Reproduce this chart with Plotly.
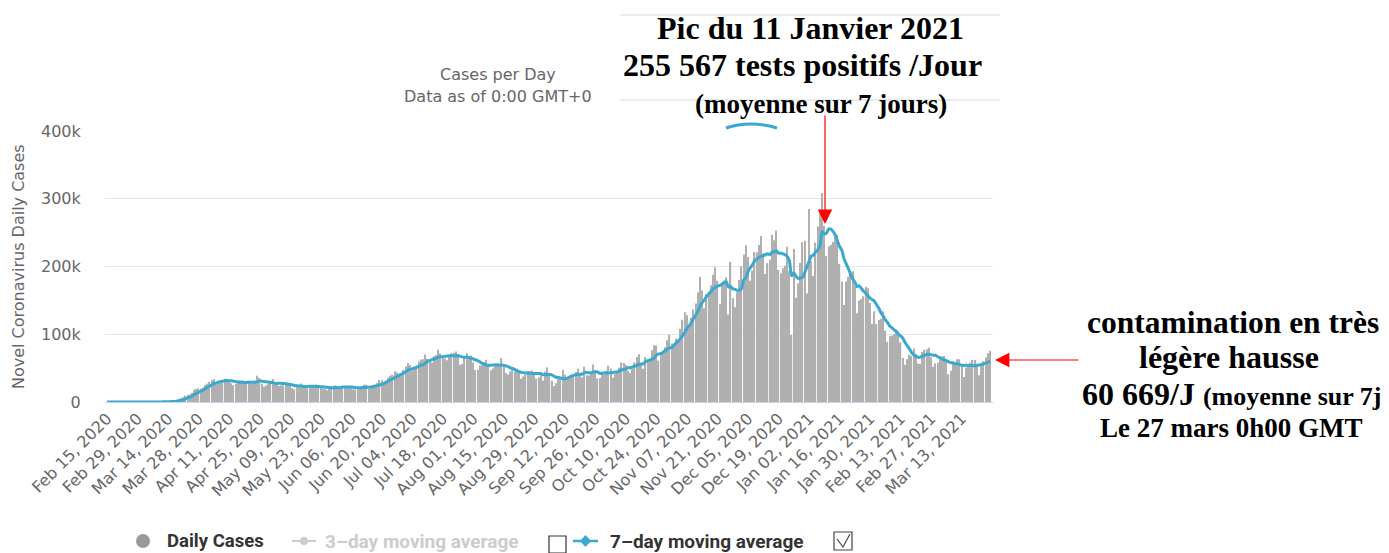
import pandas as pd
import plotly.graph_objects as go

# ---------------- data (daily new cases, thousands) ----------------
feb_2020 = [0, 0, 0, 0, 0, 0.001, 0.002, 0, 0.001, 0.004, 0.001, 0.001, 0.002, 0.001, 0.006]
mar_2020 = [0.01, 0.02, 0.02, 0.03, 0.07, 0.1, 0.1, 0.12, 0.2, 0.3, 0.4, 0.5, 0.6, 0.7, 0.8, 1.1,
            1.8, 2.9, 4.5, 5.6, 6.9, 9.4, 10.6, 11.0, 13.5, 17.9, 19.3, 19.9, 19.4, 21.4, 25.2]
apr_2020 = [27.1, 29.9, 32.2, 34.0, 25.9, 29.5, 31.7, 32.5, 34.3, 34.0, 29.9, 27.6, 24.9, 26.6, 30.2,
            31.5, 32.1, 29.3, 26.9, 28.1, 26.8, 29.1, 31.6, 38.9, 35.4, 27.0, 22.4, 24.4, 27.3, 29.4]
may_2020 = [33.9, 29.1, 25.5, 23.5, 24.7, 24.6, 28.4, 28.3, 26.0, 20.3, 18.6, 22.2, 21.6, 27.2, 25.4,
            24.0, 19.9, 22.5, 21.7, 21.2, 26.0, 24.5, 22.9, 19.8, 19.9, 17.3, 19.6, 22.4, 24.5, 24.2, 20.8]
jun_2020 = [21.1, 21.8, 20.6, 22.2, 24.1, 23.3, 18.9, 18.5, 19.0, 21.0, 23.3, 25.4, 25.6, 19.1, 20.9,
            24.2, 25.6, 28.0, 32.4, 32.0, 27.9, 32.0, 36.0, 38.7, 40.2, 45.3, 43.6, 41.4, 41.6, 47.5]
jul_2020 = [52.8, 57.7, 54.5, 46.5, 50.3, 49.2, 60.0, 62.8, 63.0, 70.0, 63.9, 59.4, 58.4, 67.5, 68.9,
            77.3, 71.6, 64.5, 63.9, 61.8, 68.9, 72.0, 72.4, 74.7, 67.0, 55.1, 56.0, 66.0, 72.0, 68.0, 68.7]
aug_2020 = [58.4, 47.5, 47.7, 53.9, 54.0, 59.1, 62.5, 55.7, 47.0, 49.5, 55.7, 55.5, 53.3, 64.8, 51.6,
            42.9, 40.4, 45.2, 47.1, 45.1, 48.9, 45.1, 34.4, 37.7, 40.3, 45.6, 45.3, 46.6, 44.4, 34.6, 36.5]
sep_2020 = [42.4, 31.4, 45.2, 51.1, 42.7, 31.4, 23.8, 27.8, 34.1, 36.3, 47.5, 40.4, 34.4, 36.3, 39.3,
            40.5, 44.4, 49.1, 42.1, 36.0, 52.1, 39.4, 39.1, 44.4, 55.3, 47.0, 34.7, 35.4, 42.2, 40.6]
oct_2020 = [46.1, 53.6, 49.4, 35.7, 41.5, 44.1, 50.5, 58.4, 57.6, 54.6, 46.3, 42.7, 52.2, 58.5, 66.4,
            70.5, 55.2, 48.9, 66.3, 61.1, 63.9, 76.2, 83.8, 83.7, 61.1, 68.9, 74.4, 80.9, 91.2, 99.1, 86.3]
nov_2020 = [84.0, 93.8, 92.7, 107.9, 121.5, 132.5, 128.0, 110.4, 124.4, 136.7, 145.4, 161.5, 184.5, 164.6,
            138.3, 159.4, 162.3, 172.5, 187.8, 198.9, 178.9, 144.4, 172.9, 178.8, 184.2, 129.0, 206.8,
            153.1, 139.8, 162.1]
dec_2020 = [180.2, 200.1, 217.7, 231.4, 213.9, 179.0, 193.8, 221.3, 221.2, 231.8, 245.0, 219.5, 189.0,
            205.0, 210.0, 246.7, 238.6, 253.2, 195.0, 190.1, 197.4, 201.0, 229.2, 193.0, 99.0, 226.0,
            154.0, 175.0, 205.0, 236.0, 238.0]
jan_2021 = [160.0, 285.0, 208.0, 186.0, 235.5, 259.1, 280.6, 308.5, 260.0, 215.5, 229.8, 232.0, 236.0,
            244.0, 247.0, 204.0, 178.0, 143.0, 178.0, 185.0, 192.0, 193.0, 171.0, 131.0, 150.0, 152.0,
            156.0, 170.0, 168.0, 146.0, 115.0]
feb_2021 = [134, 115, 121, 123, 134, 105, 89, 97, 98, 100, 107, 104, 88, 65, 55, 63, 70, 68, 79, 71,
            57, 56, 74, 77, 78, 80, 66, 52]
mar_2021 = [57, 58, 67, 67, 68, 59, 41, 46, 57, 58, 63, 63, 52, 37, 51, 53, 58, 62, 62, 56.2, 39.4,
            55.9, 60.1, 65.5, 71.8, 75.8]

start_date = "2020-02-15"
end_date = "2021-03-26"
tick_start = "2020-02-15"
tick_end = "2021-03-13"
y_ticks = [0, 100000, 200000, 300000, 400000]
y_tick_labels = ["0", "100k", "200k", "300k", "400k"]

months = [feb_2020, mar_2020, apr_2020, may_2020, jun_2020, jul_2020, aug_2020, sep_2020,
          oct_2020, nov_2020, dec_2020, jan_2021, feb_2021, mar_2021]
daily_k = [v for m in months for v in m]
dates = pd.date_range(start_date, end_date, freq="D")
assert len(dates) == len(daily_k)
daily = pd.Series([v * 1000 for v in daily_k], index=dates)
ma7 = daily.rolling(7, min_periods=1).mean()

# ---------------- layout helpers (reference pixel -> paper) ----------------
PAGE_W, PAGE_H = 1389, 553
OFF = 8                      # default body margin of the html page
W, H = PAGE_W - OFF, PAGE_H - OFF
L, R, T, B = 105, 993, 131, 402   # plot area in page pixels


def px(x):
    return (x - L) / (R - L)


def py(y):
    return (B - y) / (B - T)


day_px = (990 - 107) / (len(dates) - 1)
x0 = pd.Timestamp(start_date) - pd.Timedelta(days=(107 - L) / day_px)
x1 = x0 + pd.Timedelta(days=(R - L) / day_px)

tickvals = pd.date_range(tick_start, tick_end, freq="14D")
ticktext = [d.strftime("%b %d, %Y") for d in tickvals]

fig = go.Figure()
fig.add_trace(go.Bar(x=dates, y=daily.values, marker=dict(color="#b0b0b0", line=dict(width=0)),
                     showlegend=False, hoverinfo="x+y"))
fig.add_trace(go.Scatter(x=dates, y=ma7.values, mode="lines",
                         line=dict(color="#3aa8cf", width=3, shape="spline", smoothing=0.6),
                         showlegend=False))

tick_font = dict(family="DejaVu Sans, Verdana, sans-serif", size=16, color="#666666")

fig.update_layout(
    width=W, height=H,
    margin=dict(l=L - OFF, r=PAGE_W - R, t=T - OFF, b=H - (B - OFF), pad=0),
    paper_bgcolor="white", plot_bgcolor="white",
    bargap=0.42,
    xaxis=dict(type="date", range=[x0, x1], tickvals=tickvals, ticktext=ticktext,
               tickangle=-45, tickfont=tick_font, showgrid=False, zeroline=False,
               showline=True, linecolor="#ccd6eb", linewidth=1, ticks=""),
    yaxis=dict(range=[0, 400000], tickvals=y_ticks, ticktext=y_tick_labels, tickfont=tick_font,
               showgrid=True, gridcolor="#e6e6e6", gridwidth=1, zeroline=False,
               ticks="outside", ticklen=20, tickcolor="rgba(0,0,0,0)", showline=False),
)


def text_at(x, y, text, size, family, color="black", xanchor="center", angle=0):
    return dict(x=px(x), y=py(y), xref="paper", yref="paper", text=text, showarrow=False,
                xanchor=xanchor, yanchor="middle", textangle=angle,
                font=dict(family=family, size=size, color=color))


sans = "DejaVu Sans, Verdana, sans-serif"
serif = "Liberation Serif, Times New Roman, serif"
leg_font = "Roboto, Liberation Sans, sans-serif"

ann = [
    text_at(498, 75, "Cases per Day", 16, sans, "#666666"),
    text_at(498, 96, "Data as of 0:00 GMT+0", 16, sans, "#666666"),
    text_at(18, 267, "Novel Coronavirus Daily Cases", 16, sans, "#666666", angle=-90),
    # peak annotation
    text_at(810, 28, "<b>Pic du 11 Janvier 2021</b>", 32, serif),
    text_at(802, 65, "<b>255 567 tests positifs /Jour</b>", 32, serif),
    text_at(821, 104, "<b>(moyenne sur 7 jours)</b>", 27, serif),
    # right annotation
    text_at(1233, 322, "<b>contamination en très</b>", 31.5, serif),
    text_at(1229, 357, "<b>légère hausse</b>", 32, serif),
    text_at(1080, 394, "<b>60 669/J <span style='font-size:26px'>(moyenne sur 7j</span></b>", 32, serif,
            xanchor="left"),
    text_at(1231, 428, "<b>Le 27 mars 0h00 GMT</b>", 27, serif),
    # legend texts
    text_at(165, 541, "<b>Daily Cases</b>", 18.5, leg_font, "#333333", xanchor="left"),
    text_at(323, 541, "<b>3–day moving average</b>", 19, leg_font, "#cccccc", xanchor="left"),
    text_at(608, 541, "<b>7–day moving average</b>", 19, leg_font, "#333333", xanchor="left"),
]

# arrows
ann.append(dict(x=px(825), y=py(224), ax=0, ay=-110, xref="paper", yref="paper",
                axref="pixel", ayref="pixel", text="", showarrow=True, arrowhead=2,
                arrowsize=2.4, arrowwidth=1.2, arrowcolor="#ff0000"))
ann.append(dict(x=px(995), y=py(360), ax=85, ay=0, xref="paper", yref="paper",
                axref="pixel", ayref="pixel", text="", showarrow=True, arrowhead=2,
                arrowsize=2.4, arrowwidth=1.2, arrowcolor="#ff0000"))

shapes = []
# legend markers
shapes.append(dict(type="circle", xref="paper", yref="paper", x0=px(136), x1=px(150), y0=py(548),
                   y1=py(534), fillcolor="#999999", line=dict(width=0)))
shapes.append(dict(type="line", xref="paper", yref="paper", x0=px(292), x1=px(316), y0=py(541),
                   y1=py(541), line=dict(color="#cccccc", width=2)))
shapes.append(dict(type="circle", xref="paper", yref="paper", x0=px(300), x1=px(308), y0=py(545),
                   y1=py(537), fillcolor="#cccccc", line=dict(width=0)))
shapes.append(dict(type="rect", xref="paper", yref="paper", x0=px(549), x1=px(566), y0=py(553),
                   y1=py(536), line=dict(color="#333333", width=1.2)))
shapes.append(dict(type="line", xref="paper", yref="paper", x0=px(573), x1=px(598), y0=py(541),
                   y1=py(541), line=dict(color="#3aa8cf", width=2.5)))
shapes.append(dict(type="path", xref="paper", yref="paper",
                   path=f"M{px(585.5)},{py(535)} L{px(591)},{py(541)} L{px(585.5)},{py(547)} "
                        f"L{px(580)},{py(541)} Z",
                   fillcolor="#3aa8cf", line=dict(width=0)))
shapes.append(dict(type="rect", xref="paper", yref="paper", x0=px(834), x1=px(852), y0=py(550),
                   y1=py(532), line=dict(color="#444444", width=1.2)))
shapes.append(dict(type="path", xref="paper", yref="paper",
                   path=f"M{px(837)},{py(539)} L{px(843)},{py(547)} L{px(850)},{py(534)}",
                   line=dict(color="#444444", width=1.2)))
# faint artifact lines of the pasted note
shapes.append(dict(type="line", xref="paper", yref="paper", x0=px(620), x1=px(1000), y0=py(15),
                   y1=py(15), line=dict(color="#ececec", width=2)))
shapes.append(dict(type="line", xref="paper", yref="paper", x0=px(620), x1=px(1000), y0=py(100),
                   y1=py(100), line=dict(color="#ececec", width=2)))
shapes.append(dict(type="path", xref="paper", yref="paper",
                   path=f"M{px(726)},{py(128)} Q{px(750)},{py(120)} {px(777)},{py(128)}",
                   line=dict(color="#3aa8cf", width=3)))

fig.update_layout(annotations=ann, shapes=shapes)
fig.write_html("out.html")
